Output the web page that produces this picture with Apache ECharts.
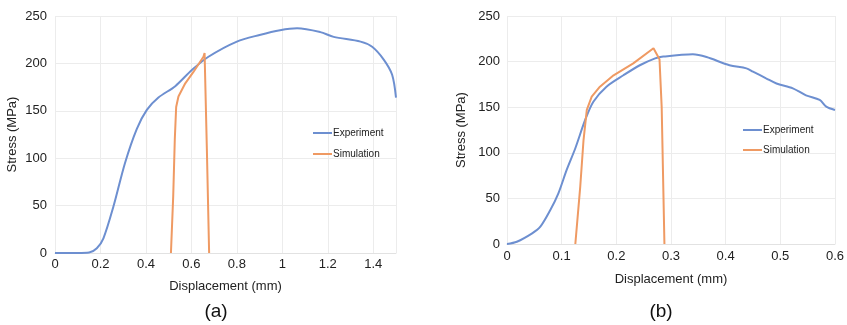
<!DOCTYPE html>
<html lang="en">
  <head>
    <meta charset="UTF-8" />
    <title>Stress vs displacement</title>
    <script src="https://cdn.jsdelivr.net/npm/echarts@6/dist/echarts.min.js"></script>
    <style>
      html, body { margin: 0; padding: 0; background: #fff; }
      #chart { width: 847px; height: 325px; }
    </style>
  </head>
  <body>
    <div id="chart"></div>
    <script>
      // (a) experiment / simulation, [displacement mm, stress MPa]
      var expA = [
        [0, 0], [0.05, 0], [0.1, 0], [0.15, 0.5], [0.184, 5], [0.213, 15.5],
        [0.257, 49], [0.308, 95], [0.36, 131], [0.404, 151], [0.455, 164],
        [0.529, 176], [0.602, 193], [0.675, 207], [0.8, 223], [0.9, 230],
        [0.99, 235], [1.065, 237], [1.167, 233], [1.226, 228], [1.344, 223],
        [1.395, 217.5], [1.446, 204], [1.483, 188], [1.5, 164]
      ];
      var simA = [
        [0.51, 0], [0.52, 60], [0.527, 120], [0.533, 154], [0.543, 165],
        [0.573, 179], [0.609, 191], [0.653, 207], [0.658, 211], [0.668, 110],
        [0.678, 0]
      ];
      // (b)
      var expB = [
        [0, 0], [0.018, 2.5], [0.046, 11.7], [0.061, 19], [0.079, 37],
        [0.094, 55.6], [0.109, 81], [0.125, 105], [0.143, 136], [0.158, 156],
        [0.182, 172.5], [0.213, 185], [0.243, 196], [0.271, 203.6], [0.286, 205.5],
        [0.34, 208], [0.365, 205], [0.407, 196], [0.438, 192.6], [0.45, 189],
        [0.474, 181.7], [0.493, 176], [0.523, 170.7], [0.547, 163], [0.572, 158],
        [0.584, 150.6], [0.6, 147]
      ];
      var simB = [
        [0.125, 0], [0.134, 63], [0.14, 114], [0.146, 147], [0.155, 161.5],
        [0.17, 172.5], [0.195, 185], [0.231, 198], [0.268, 214.6], [0.279, 202.5],
        [0.283, 150], [0.288, 0]
      ];
      var stressTicks = { min: 0, max: 250, interval: 50 };
      var panelLabels = ['(a)', '(b)'];

      var blue = '#6d8fd0';
      var orange = '#ef9a63';
      var font = 'Liberation Sans, Arial, sans-serif';

      function xAxisCfg(idx, max, interval, labelMargin, nameGap) {
        return {
          type: 'value', gridIndex: idx, min: 0, max: max, interval: interval,
          name: 'Displacement (mm)', nameLocation: 'middle', nameGap: nameGap,
          nameTextStyle: { fontSize: 13, color: '#222', fontFamily: font },
          axisLine: { show: true, lineStyle: { color: '#e2e2e2' } },
          axisTick: { show: false },
          axisLabel: { fontSize: 13, color: '#222', fontFamily: font, margin: labelMargin, showMaxLabel: idx === 1 },
          splitLine: { show: true, lineStyle: { color: '#ececec' } }
        };
      }
      function yAxisCfg(idx, labelMargin, nameGap) {
        return {
          type: 'value', gridIndex: idx,
          min: stressTicks.min, max: stressTicks.max, interval: stressTicks.interval,
          name: 'Stress (MPa)', nameLocation: 'middle', nameGap: nameGap,
          nameTextStyle: { fontSize: 13, color: '#222', fontFamily: font },
          axisLine: { show: false },
          axisTick: { show: false },
          axisLabel: { fontSize: 13, color: '#222', fontFamily: font, margin: labelMargin },
          splitLine: { show: true, lineStyle: { color: '#ececec' } }
        };
      }
      function legendCfg(left, top, gap) {
        return {
          orient: 'vertical', left: left, top: top, itemGap: gap,
          itemWidth: 19, itemHeight: 2, icon: 'rect',
          textStyle: { fontSize: 10, color: '#222', fontFamily: font, lineHeight: 12, padding: [0, 0, 0, -4] },
          data: ['Experiment', 'Simulation']
        };
      }
      function lineSeries(name, data, idx, color, smooth) {
        return {
          name: name, type: 'line', data: data, xAxisIndex: idx, yAxisIndex: idx,
          showSymbol: false, smooth: smooth, lineStyle: { width: 2, color: color },
          itemStyle: { color: color }
        };
      }

      var myChart = echarts.init(document.getElementById('chart'));
      myChart.setOption({
        animation: false,
        textStyle: { fontFamily: font },
        title: [
          { text: panelLabels[0], left: 211, top: 297, textAlign: 'center',
            textStyle: { fontSize: 19, fontWeight: 'normal', color: '#111', fontFamily: font } },
          { text: panelLabels[1], left: 656, top: 297, textAlign: 'center',
            textStyle: { fontSize: 19, fontWeight: 'normal', color: '#111', fontFamily: font } }
        ],
        legend: [legendCfg(308, 122, 9), legendCfg(738, 119, 8)],
        grid: [
          { left: 55, right: 451, top: 16, bottom: 72 },
          { left: 507, right: 11, top: 16, bottom: 81 }
        ],
        xAxis: [xAxisCfg(0, 1.5, 0.2, 5, 27), xAxisCfg(1, 0.6, 0.1, 6, 29)],
        yAxis: [yAxisCfg(0, 8, 36), yAxisCfg(1, 7, 39)],
        series: [
          lineSeries('Experiment', expA, 0, blue, 0.3),
          lineSeries('Simulation', simA, 0, orange, false),
          lineSeries('Experiment', expB, 1, blue, 0.3),
          lineSeries('Simulation', simB, 1, orange, false)
        ]
      });
    </script>
  </body>
</html>
